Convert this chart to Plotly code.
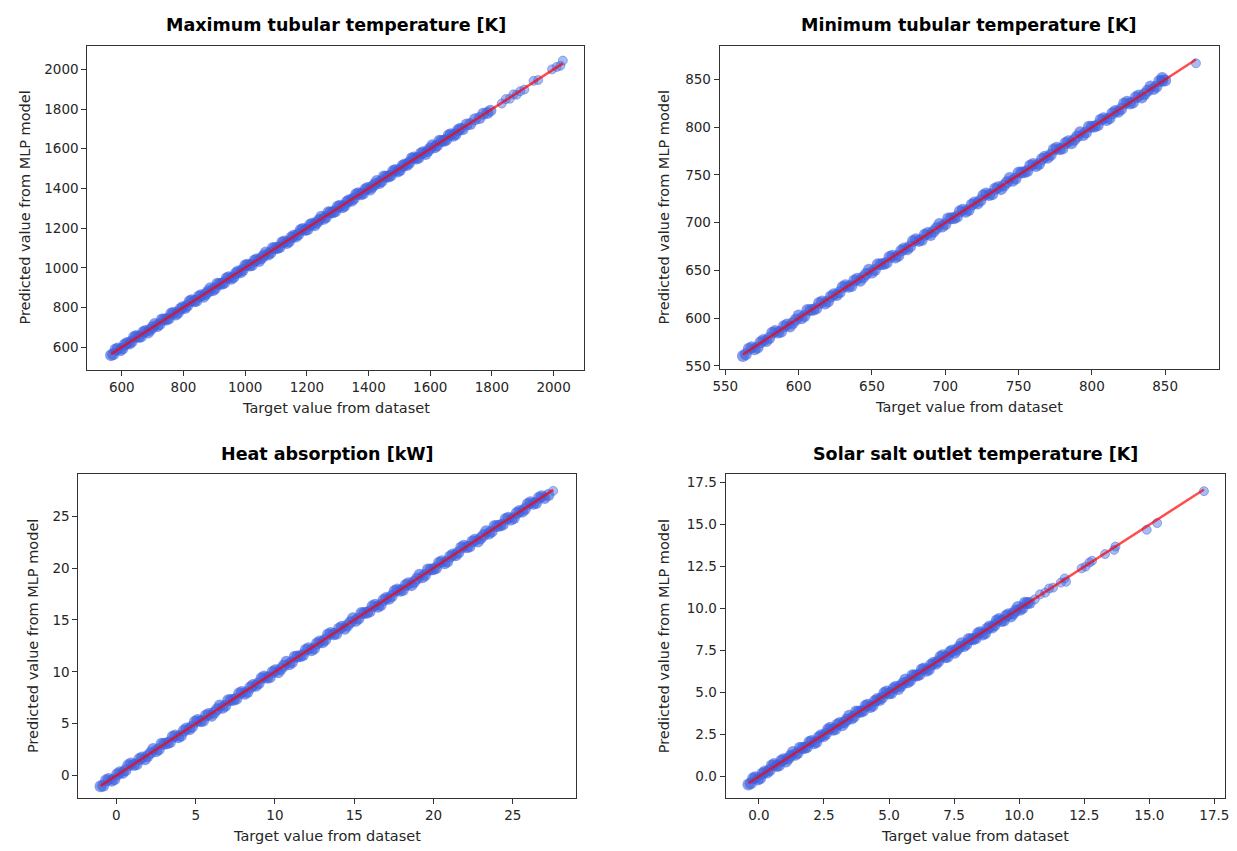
import plotly.graph_objects as go

# ---------------- data ----------------
titles = ["Maximum tubular temperature [K]", "Minimum tubular temperature [K]",
          "Heat absorption [kW]", "Solar salt outlet temperature [K]"]
x_label = "Target value from dataset"
y_label = "Predicted value from MLP model"

# Maximum tubular temperature: dense band (two interleaved readings) + sparse upper points
target_max = [565, 580, 595, 610, 625, 640, 655, 670, 685, 700, 715, 730, 745, 760, 775, 790,
              805, 820, 835, 850, 865, 880, 895, 910, 925, 940, 955, 970, 985, 1000, 1015, 1030,
              1045, 1060, 1075, 1090, 1105, 1120, 1135, 1150, 1165, 1180, 1195, 1210, 1225, 1240,
              1255, 1270, 1285, 1300, 1315, 1330, 1345, 1360, 1375, 1390, 1405, 1420, 1435, 1450,
              1465, 1480, 1495, 1510, 1525, 1540, 1555, 1570, 1585, 1600, 1615, 1630, 1645, 1660,
              1675, 1690, 1705, 1718, 1730, 1745, 1760, 1772, 1785, 1795]
pred_max = [560, 588, 585, 613, 618, 651, 651, 676, 674, 701, 707, 740, 740, 768, 765, 793,
            798, 831, 831, 856, 854, 881, 887, 920, 920, 948, 945, 973, 978, 1011, 1011, 1036,
            1034, 1061, 1067, 1100, 1100, 1128, 1125, 1153, 1158, 1191, 1191, 1216, 1214, 1241,
            1247, 1280, 1280, 1308, 1305, 1333, 1338, 1371, 1371, 1396, 1394, 1421, 1427, 1460,
            1460, 1488, 1485, 1513, 1518, 1551, 1551, 1576, 1574, 1601, 1607, 1640, 1640, 1668,
            1665, 1693, 1698, 1722, 1724, 1748, 1755, 1776, 1780, 1792]
target_max_mid = [572, 587, 602, 617, 632, 647, 662, 677, 692, 707, 722, 737, 752, 767, 782,
                  797, 812, 827, 842, 857, 872, 887, 902, 917, 932, 947, 962, 977, 992, 1007,
                  1022, 1037, 1052, 1067, 1082, 1097, 1112, 1127, 1142, 1157, 1172, 1187, 1202,
                  1217, 1232, 1247, 1262, 1277, 1292, 1307, 1322, 1337, 1352, 1367, 1382, 1397,
                  1412, 1427, 1442, 1457, 1472, 1487, 1502, 1517, 1532, 1547, 1562, 1577, 1592,
                  1607, 1622, 1637, 1652, 1667, 1682, 1697]
pred_max_mid = [565, 593, 593, 621, 629, 656, 654, 682, 688, 717, 716, 739, 745, 773, 773,
                801, 809, 836, 834, 862, 868, 897, 896, 919, 925, 953, 953, 981, 989, 1016,
                1014, 1042, 1048, 1077, 1076, 1099, 1105, 1133, 1133, 1161, 1169, 1196, 1194,
                1222, 1228, 1257, 1256, 1279, 1285, 1313, 1313, 1341, 1349, 1376, 1374, 1402,
                1408, 1437, 1436, 1459, 1465, 1493, 1493, 1521, 1529, 1556, 1554, 1582, 1588,
                1617, 1616, 1639, 1645, 1673, 1673, 1701]
target_max_sparse = [1832, 1845, 1858, 1870, 1880, 1892, 1905, 1935, 1950, 1995, 2010, 2022, 2030]
pred_max_sparse = [1828, 1850, 1852, 1874, 1872, 1890, 1898, 1942, 1946, 2000, 2012, 2018, 2044]

# Minimum tubular temperature
target_min = [562, 566, 570, 574, 578, 582, 586, 590, 594, 598, 602, 606, 610, 614, 618, 622,
              626, 630, 634, 638, 642, 646, 650, 654, 658, 662, 666, 670, 674, 678, 682, 686,
              690, 694, 698, 702, 706, 710, 714, 718, 722, 726, 730, 734, 738, 742, 746, 750,
              754, 758, 762, 766, 770, 774, 778, 782, 786, 790, 794, 798, 802, 806, 810, 814,
              818, 822, 826, 830, 834, 838, 842, 846, 850, 848]
pred_min = [560.5, 568, 567.5, 574.8, 576.2, 584.8, 585, 591.5, 591.2, 598.3, 600, 608.5,
            608.8, 616, 615.5, 622.8, 624.2, 632.8, 633, 639.5, 639.2, 646.3, 648, 656.5,
            656.8, 664, 663.5, 670.8, 672.2, 680.8, 681, 687.5, 687.2, 694.3, 696, 704.5,
            704.8, 712, 711.5, 718.8, 720.2, 728.8, 729, 735.5, 735.2, 742.3, 744, 752.5,
            752.8, 760, 759.5, 766.8, 768.2, 776.8, 777, 783.5, 783.2, 790.3, 792, 800.5,
            800.8, 808, 807.5, 814.8, 816.2, 824.8, 825, 831.5, 831.2, 838.3, 840, 848.5,
            849, 851.5]
target_min_mid = [564, 568, 572, 576, 580, 584, 588, 592, 596, 600, 604, 608, 612, 616, 620,
                  624, 628, 632, 636, 640, 644, 648, 652, 656, 660, 664, 668, 672, 676, 680,
                  684, 688, 692, 696, 700, 704, 708, 712, 716, 720, 724, 728, 732, 736, 740,
                  744, 748, 752, 756, 760, 764, 768, 772, 776, 780, 784, 788, 792, 796, 800,
                  804, 808, 812, 816, 820, 824, 828, 832, 836, 840, 844, 848]
pred_min_mid = [562.2, 569.5, 569.4, 577.1, 579.2, 586.6, 585.8, 593.3, 594.9, 602.8, 602.4,
                608.6, 610.2, 617.5, 617.4, 625.1, 627.2, 634.6, 633.8, 641.3, 642.9, 650.8,
                650.4, 656.6, 658.2, 665.5, 665.4, 673.1, 675.2, 682.6, 681.8, 689.3, 690.9,
                698.8, 698.4, 704.6, 706.2, 713.5, 713.4, 721.1, 723.2, 730.6, 729.8, 737.3,
                738.9, 746.8, 746.4, 752.6, 754.2, 761.5, 761.4, 769.1, 771.2, 778.6, 777.8,
                785.3, 786.9, 794.8, 794.4, 800.6, 802.2, 809.5, 809.4, 817.1, 819.2, 826.6,
                825.8, 833.3, 834.9, 842.8, 842.4, 848.6]
target_min_sparse = [871]
pred_min_sparse = [867]

# Heat absorption
target_heat = [-1.00, -0.65, -0.30, 0.05, 0.40, 0.75, 1.10, 1.45, 1.80, 2.15, 2.50, 2.85, 3.20,
               3.55, 3.90, 4.25, 4.60, 4.95, 5.30, 5.65, 6.00, 6.35, 6.70, 7.05, 7.40, 7.75,
               8.10, 8.45, 8.80, 9.15, 9.50, 9.85, 10.20, 10.55, 10.90, 11.25, 11.60, 11.95,
               12.30, 12.65, 13.00, 13.35, 13.70, 14.05, 14.40, 14.75, 15.10, 15.45, 15.80,
               16.15, 16.50, 16.85, 17.20, 17.55, 17.90, 18.25, 18.60, 18.95, 19.30, 19.65,
               20.00, 20.35, 20.70, 21.05, 21.40, 21.75, 22.10, 22.45, 22.80, 23.15, 23.50,
               23.85, 24.20, 24.55, 24.90, 25.25, 25.60, 25.95, 26.30, 26.65, 27.00, 27.25]
pred_heat = [-1.05, -0.47, -0.52, 0.12, 0.25, 0.99, 1.02, 1.58, 1.56, 2.18, 2.33, 3.06, 3.10,
             3.73, 3.68, 4.32, 4.45, 5.19, 5.22, 5.78, 5.76, 6.38, 6.53, 7.26, 7.30, 7.93,
             7.88, 8.52, 8.65, 9.39, 9.42, 9.98, 9.96, 10.58, 10.73, 11.46, 11.50, 12.13,
             12.08, 12.72, 12.85, 13.59, 13.62, 14.18, 14.16, 14.78, 14.93, 15.66, 15.70,
             16.33, 16.28, 16.92, 17.05, 17.79, 17.82, 18.38, 18.36, 18.98, 19.13, 19.86,
             19.90, 20.53, 20.48, 21.12, 21.25, 21.99, 22.02, 22.58, 22.56, 23.18, 23.33,
             24.06, 24.10, 24.73, 24.68, 25.32, 25.45, 26.19, 26.22, 26.78, 26.76, 27.05]
target_heat_mid = [-0.83, -0.48, -0.13, 0.22, 0.57, 0.92, 1.27, 1.62, 1.97, 2.32, 2.67, 3.02,
                   3.37, 3.72, 4.07, 4.42, 4.77, 5.12, 5.47, 5.82, 6.17, 6.52, 6.87, 7.22, 7.57,
                   7.92, 8.27, 8.62, 8.97, 9.32, 9.67, 10.02, 10.37, 10.72, 11.07, 11.42, 11.77,
                   12.12, 12.47, 12.82, 13.17, 13.52, 13.87, 14.22, 14.57, 14.92, 15.27, 15.62,
                   15.97, 16.32, 16.67, 17.02, 17.37, 17.72, 18.07, 18.42, 18.77, 19.12, 19.47,
                   19.82, 20.17, 20.52, 20.87, 21.22, 21.57, 21.92, 22.27, 22.62, 22.97, 23.32,
                   23.67, 24.02, 24.37, 24.72, 25.07, 25.42, 25.77, 26.12, 26.47, 26.82]
pred_heat_mid = [-0.99, -0.34, -0.36, 0.32, 0.50, 1.15, 1.08, 1.74, 1.87, 2.56, 2.53, 3.07,
                 3.21, 3.86, 3.84, 4.52, 4.70, 5.35, 5.28, 5.94, 6.07, 6.76, 6.73, 7.27, 7.41,
                 8.06, 8.04, 8.72, 8.90, 9.55, 9.48, 10.14, 10.27, 10.96, 10.93, 11.47, 11.61,
                 12.26, 12.24, 12.92, 13.10, 13.75, 13.68, 14.34, 14.47, 15.16, 15.13, 15.67,
                 15.81, 16.46, 16.44, 17.12, 17.30, 17.95, 17.88, 18.54, 18.67, 19.36, 19.33,
                 19.87, 20.01, 20.66, 20.64, 21.32, 21.50, 22.15, 22.08, 22.74, 22.87, 23.56,
                 23.53, 24.07, 24.21, 24.86, 24.84, 25.52, 25.70, 26.35, 26.28, 26.94]
target_heat_sparse = [27.55]
pred_heat_sparse = [27.45]

# Solar salt outlet temperature
target_salt = [-0.40, -0.22, -0.04, 0.14, 0.32, 0.50, 0.68, 0.86, 1.04, 1.22, 1.40, 1.58, 1.76,
               1.94, 2.12, 2.30, 2.48, 2.66, 2.84, 3.02, 3.20, 3.38, 3.56, 3.74, 3.92, 4.10,
               4.28, 4.46, 4.64, 4.82, 5.00, 5.18, 5.36, 5.54, 5.72, 5.90, 6.08, 6.26, 6.44,
               6.62, 6.80, 6.98, 7.16, 7.34, 7.52, 7.70, 7.88, 8.06, 8.24, 8.42, 8.60, 8.78,
               8.96, 9.14, 9.32, 9.50, 9.68, 9.86, 10.04, 10.22, 10.40]
pred_salt = [-0.48, -0.11, -0.18, 0.18, 0.23, 0.65, 0.63, 0.94, 0.89, 1.24, 1.29, 1.71, 1.70,
             2.05, 1.98, 2.34, 2.39, 2.81, 2.79, 3.10, 3.05, 3.40, 3.45, 3.87, 3.86, 4.21,
             4.14, 4.50, 4.55, 4.97, 4.95, 5.26, 5.21, 5.56, 5.61, 6.03, 6.02, 6.37, 6.30,
             6.66, 6.71, 7.13, 7.11, 7.42, 7.37, 7.72, 7.77, 8.19, 8.18, 8.53, 8.46, 8.82,
             8.87, 9.29, 9.27, 9.58, 9.53, 9.88, 9.93, 10.35, 10.34]
target_salt_mid = [-0.31, -0.13, 0.05, 0.23, 0.41, 0.59, 0.77, 0.95, 1.13, 1.31, 1.49, 1.67,
                   1.85, 2.03, 2.21, 2.39, 2.57, 2.75, 2.93, 3.11, 3.29, 3.47, 3.65, 3.83, 4.01,
                   4.19, 4.37, 4.55, 4.73, 4.91, 5.09, 5.27, 5.45, 5.63, 5.81, 5.99, 6.17, 6.35,
                   6.53, 6.71, 6.89, 7.07, 7.25, 7.43, 7.61, 7.79, 7.97, 8.15, 8.33, 8.51, 8.69,
                   8.87, 9.05, 9.23, 9.41, 9.59, 9.77, 9.95, 10.13, 10.31]
pred_salt_mid = [-0.41, -0.04, -0.10, 0.29, 0.37, 0.74, 0.65, 1.02, 1.07, 1.46, 1.40, 1.70,
                 1.75, 2.12, 2.06, 2.45, 2.53, 2.90, 2.81, 3.18, 3.23, 3.62, 3.56, 3.86, 3.91,
                 4.28, 4.22, 4.61, 4.69, 5.06, 4.97, 5.34, 5.39, 5.78, 5.72, 6.02, 6.07, 6.44,
                 6.38, 6.77, 6.85, 7.22, 7.13, 7.50, 7.55, 7.94, 7.88, 8.18, 8.23, 8.60, 8.54,
                 8.93, 9.01, 9.38, 9.29, 9.66, 9.71, 10.10, 10.04, 10.34]
target_salt_sparse = [10.60, 10.80, 11.00, 11.15, 11.30, 11.60, 11.75, 11.80, 12.40, 12.55,
                      12.70, 12.80, 13.30, 13.65, 13.70, 14.90, 15.30, 17.10]
pred_salt_sparse = [10.55, 10.85, 10.95, 11.20, 11.25, 11.55, 11.80, 11.60, 12.40, 12.50,
                    12.75, 12.85, 13.25, 13.50, 13.70, 14.70, 15.10, 17.00]

x_ticks_max = [600, 800, 1000, 1200, 1400, 1600, 1800, 2000]
y_ticks_max = [600, 800, 1000, 1200, 1400, 1600, 1800, 2000]
x_ticks_min = [550, 600, 650, 700, 750, 800, 850]
y_ticks_min = [550, 600, 650, 700, 750, 800, 850]
x_ticks_heat = [0, 5, 10, 15, 20, 25]
y_ticks_heat = [0, 5, 10, 15, 20, 25]
x_ticks_salt = [0.0, 2.5, 5.0, 7.5, 10.0, 12.5, 15.0, 17.5]
y_ticks_salt = [0.0, 2.5, 5.0, 7.5, 10.0, 12.5, 15.0, 17.5]

# ---------------- layout geometry ----------------
W, H = 1237, 851
panels = [
    dict(t=target_max + target_max_mid, p=pred_max + pred_max_mid,
         ts=target_max_sparse, ps=pred_max_sparse,
         xt=x_ticks_max, yt=y_ticks_max, fmt="d",
         px=(81, 582), py=(46, 372), xr=[488, 2098], yr=[486, 2119], title_y=25, ylab_x=18),
    dict(t=target_min + target_min_mid, p=pred_min + pred_min_mid,
         ts=target_min_sparse, ps=pred_min_sparse,
         xt=x_ticks_min, yt=y_ticks_min, fmt="d",
         px=(719, 1223), py=(46, 371), xr=[546.1, 886.8], yr=[547, 885.4], title_y=25, ylab_x=663),
    dict(t=target_heat + target_heat_mid, p=pred_heat + pred_heat_mid,
         ts=target_heat_sparse, ps=pred_heat_sparse,
         xt=x_ticks_heat, yt=y_ticks_heat, fmt="d",
         px=(72, 574), py=(477, 803), xr=[-2.4, 28.98], yr=[-2.2, 29.06], title_y=457, ylab_x=26),
    dict(t=target_salt + target_salt_mid, p=pred_salt + pred_salt_mid,
         ts=target_salt_sparse, ps=pred_salt_sparse,
         xt=x_ticks_salt, yt=y_ticks_salt, fmt=".1f",
         px=(725, 1229), py=(477, 803), xr=[-1.28, 17.91], yr=[-1.3, 18.01], title_y=457, ylab_x=663),
]

font_fam = "DejaVu Sans"
tick_font = dict(family=font_fam, size=13.5, color="#262626")
fig = go.Figure()
annotations = []
layout_axes = {}

for i, pn in enumerate(panels, start=1):
    xa = "x" if i == 1 else f"x{i}"
    ya = "y" if i == 1 else f"y{i}"
    # dense band of points
    fig.add_trace(go.Scatter(
        x=pn["t"], y=pn["p"], mode="markers", xaxis=xa, yaxis=ya, showlegend=False,
        marker=dict(size=12, color="rgba(60,95,222,0.62)", line=dict(width=0)),
        hoverinfo="skip"))
    # isolated points
    fig.add_trace(go.Scatter(
        x=pn["ts"], y=pn["ps"], mode="markers", xaxis=xa, yaxis=ya, showlegend=False,
        marker=dict(size=9, color="rgba(65,105,225,0.45)",
                    line=dict(width=1, color="rgba(65,105,225,0.5)")),
        hoverinfo="skip"))
    all_t = pn["t"] + pn["ts"]
    lo, hi = min(all_t), max(all_t)
    fig.add_trace(go.Scatter(
        x=[lo, hi], y=[lo, hi], mode="lines", xaxis=xa, yaxis=ya, showlegend=False,
        line=dict(color="rgba(255,0,0,0.7)", width=2.5), hoverinfo="skip"))

    xd = [pn["px"][0] / W, pn["px"][1] / W]
    yd = [1 - pn["py"][1] / H, 1 - pn["py"][0] / H]
    common = dict(showline=True, mirror=True, linecolor="#333333", linewidth=1,
                  ticks="outside", ticklen=5, tickwidth=1, tickcolor="#333333",
                  showgrid=False, zeroline=False, tickfont=tick_font)
    layout_axes["xaxis" if i == 1 else f"xaxis{i}"] = dict(
        domain=xd, range=pn["xr"], tickvals=pn["xt"], tickformat=pn["fmt"],
        anchor=ya, **common)
    layout_axes["yaxis" if i == 1 else f"yaxis{i}"] = dict(
        domain=yd, range=pn["yr"], tickvals=pn["yt"], tickformat=pn["fmt"],
        anchor=xa, **common)

    cx = (pn["px"][0] + pn["px"][1]) / 2 / W
    cy = 1 - (pn["py"][0] + pn["py"][1]) / 2 / H
    annotations.append(dict(text=f"<b>{titles[i-1]}</b>", x=cx, y=1 - pn["title_y"] / H,
                            xref="paper", yref="paper", showarrow=False,
                            xanchor="center", yanchor="middle",
                            font=dict(family=font_fam, size=17.5, color="#000000")))
    annotations.append(dict(text=x_label, x=cx, y=1 - (pn["py"][1] + 38) / H,
                            xref="paper", yref="paper", showarrow=False,
                            xanchor="center", yanchor="middle",
                            font=dict(family=font_fam, size=14.5, color="#262626")))
    annotations.append(dict(text=y_label, x=pn["ylab_x"] / W, y=cy,
                            xref="paper", yref="paper", showarrow=False, textangle=-90,
                            xanchor="center", yanchor="middle",
                            font=dict(family=font_fam, size=14.5, color="#262626")))

fig.update_layout(width=W, height=H, margin=dict(l=0, r=0, t=0, b=0),
                  paper_bgcolor="white", plot_bgcolor="white",
                  annotations=annotations, showlegend=False, **layout_axes)

fig.write_html("out.html", include_plotlyjs=True, config={"displayModeBar": False})
